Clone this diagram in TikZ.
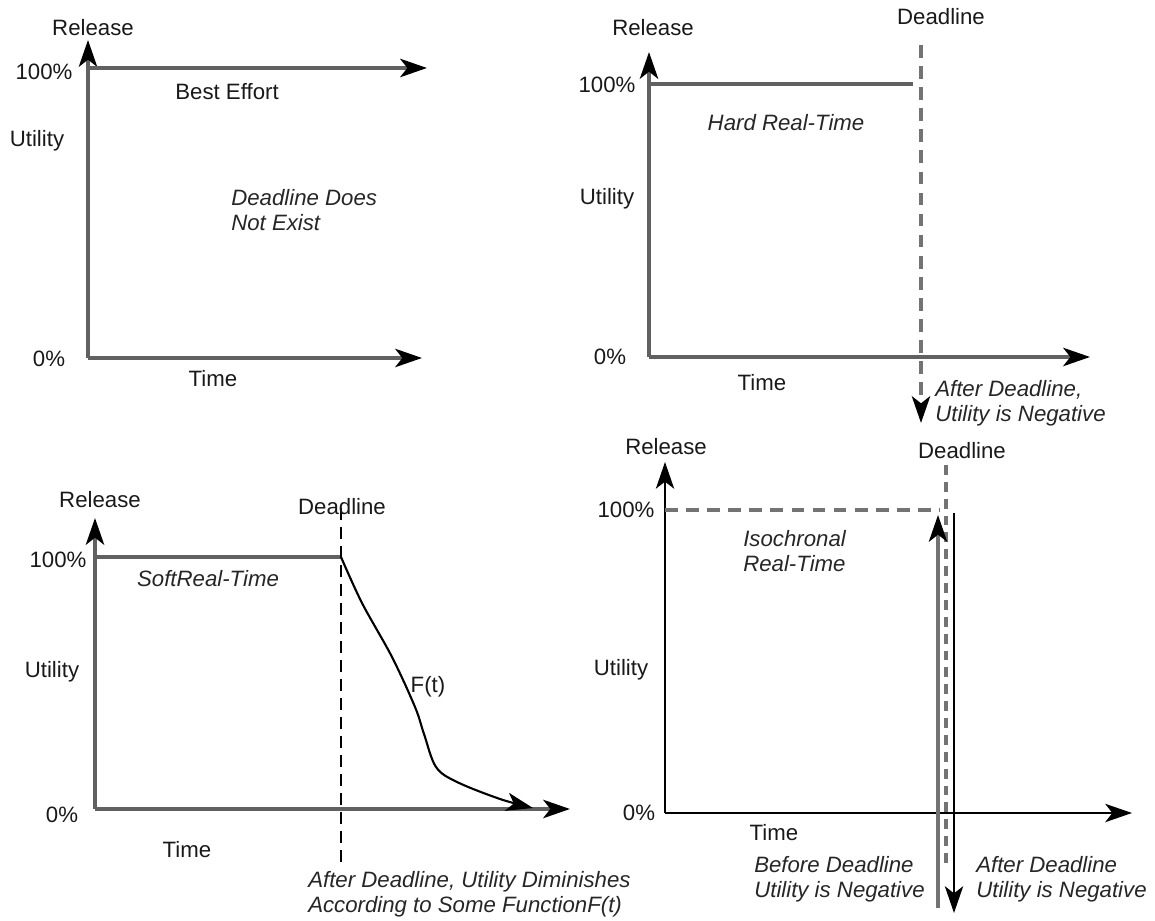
\documentclass[tikz,border=0pt]{standalone}
\usepackage{fontspec}
\setmainfont{Liberation Sans}
\usetikzlibrary{arrows.meta}
\begin{document}
\begin{tikzpicture}[x=0.025cm, y=0.025cm, line join=round,
			>={Stealth[length=19pt, width=13pt, inset=5pt, color=black]},
			font=\fontsize{15.8}{17.8}\selectfont,
			lbl/.style={text=black!90, inner sep=0pt},
			note/.style={text=black!85, font=\fontsize{15.8}{17.8}\selectfont\itshape,
				align=left, anchor=west, inner sep=0pt},
			axis/.style={draw=black!62, line width=2.6pt},
			thinaxis/.style={draw=black, line width=1.5pt},
			deadl/.style={draw=black!55, line width=2.6pt, dash pattern=on 9pt off 6pt},
			thindeadl/.style={draw=black, line width=1.1pt, dash pattern=on 8.5pt off 5pt}]
			\useasboundingbox (0,0) rectangle (1155,920);
			% best effort
			\begin{scope}[shift={(88,562)}]
				\coordinate (a0) at (0,0);
				\coordinate (atop) at (0,318);
				\coordinate (aend) at (334,0);
				\coordinate (afull) at (0,290);
				\coordinate (afullend) at (339,290);
				\draw[axis,->] (a0) -- (atop);
				\draw[axis,->] (a0) -- (aend);
				\draw[axis,->] (afull) -- (afullend);
				\node[lbl] (arel) at (5,330) {Release};
				\node[lbl] (afullpc) at (-44,286) {100\%};
				\node[lbl] (autil) at (-51,217) {Utility};
				\node[lbl] (abest) at (139,266) {Best Effort};
				\node[note] (anote) at (143,148) {Deadline Does\\Not Exist};
				\node[lbl] (azero) at (-39,-1) {0\%};
				\node[lbl] (atime) at (125,-21) {Time};
			\end{scope}
			% hard real-time
			\begin{scope}[shift={(649,563)}]
				\coordinate (b0) at (0,0);
				\coordinate (btop) at (0,305);
				\coordinate (bend) at (441,0);
				\coordinate (bfull) at (0,273);
				\coordinate (bfullend) at (264,273);
				\coordinate (bdtop) at (272,312);
				\coordinate (bdbot) at (272,-66);
				\draw[axis,->] (b0) -- (btop);
				\draw[axis,->] (b0) -- (bend);
				\draw[axis] (bfull) -- (bfullend);
				\draw[deadl,->] (bdtop) -- (bdbot);
				\node[lbl] (brel) at (4,329) {Release};
				\node[lbl] (bdead) at (292,340) {Deadline};
				\node[lbl] (bfullpc) at (-42,272) {100\%};
				\node[note, anchor=center] (bhard) at (137,234) {Hard Real-Time};
				\node[lbl] (butil) at (-42,158) {Utility};
				\node[lbl] (bzero) at (-39,0) {0\%};
				\node[lbl] (btime) at (113,-26) {Time};
				\node[note] (bafter) at (286,-46) {After Deadline,\\Utility is Negative};
			\end{scope}
			% soft real-time
			\begin{scope}[shift={(95,111)}]
				\coordinate (c0) at (0,0);
				\coordinate (ctop) at (0,291);
				\coordinate (cend) at (475,0);
				\coordinate (cfull) at (0,252);
				\coordinate (cfullend) at (246,252);
				\coordinate (cdtop) at (246,301);
				\coordinate (cdbot) at (246,-53);
				\draw[axis,->] (c0) -- (ctop);
				\draw[axis,->] (c0) -- (cend);
				\draw[axis] (cfull) -- (cfullend);
				\draw[thindeadl] (cdtop) -- (cdbot);
				\draw[black, line width=1.5pt, ->] plot[smooth, tension=0.55] coordinates
					{(246,252) (267,206) (297,152) (320,102) (329,75) (341,42) (362,27) (405,10) (438,1)};
				\node[lbl] (crel) at (5,309) {Release};
				\node[lbl] (cdead) at (247,302) {Deadline};
				\node[lbl] (cfullpc) at (-37,249) {100\%};
				\node[note, anchor=center] (csoft) at (113,230) {SoftReal-Time};
				\node[lbl] (cutil) at (-43,137) {Utility};
				\node[lbl] (cf) at (333,122) {F(t)};
				\node[lbl] (czero) at (-33,-6) {0\%};
				\node[lbl] (ctime) at (92,-41) {Time};
				\node[note] (cafter) at (213,-85) {After Deadline, Utility Diminishes\\According to Some FunctionF(t)};
			\end{scope}
			% isochronal real-time
			\begin{scope}[shift={(665,107)}]
				\coordinate (d0) at (0,0);
				\coordinate (dtop) at (0,351);
				\coordinate (dend) at (467,0);
				\coordinate (dfull) at (0,303);
				\coordinate (dfullend) at (275,303);
				\coordinate (ddtop) at (281,348);
				\coordinate (ddbot) at (281,-55);
				\coordinate (dupbot) at (273,-95);
				\coordinate (duptop) at (273,298);
				\coordinate (ddowntop) at (289,300);
				\coordinate (ddownbot) at (289,-100);
				\draw[thinaxis,->] (d0) -- (dtop);
				\draw[thinaxis,->] (d0) -- (dend);
				\draw[deadl] (dfull) -- (dfullend);
				\draw[deadl, line width=2.2pt, dash pattern=on 7pt off 5pt] (ddtop) -- (ddbot);
				\draw[draw=black!55, line width=2.2pt, ->] (dupbot) -- (duptop);
				\draw[thinaxis,->] (ddowntop) -- (ddownbot);
				\node[lbl] (drel) at (1,366) {Release};
				\node[lbl] (ddead) at (297,362) {Deadline};
				\node[lbl] (dfullpc) at (-39,303) {100\%};
				\node[note] (diso) at (78,262) {Isochronal\\Real-Time};
				\node[lbl] (dutil) at (-44,143) {Utility};
				\node[lbl] (dzero) at (-26,0) {0\%};
				\node[lbl] (dtime) at (109,-20) {Time};
				\node[note] (dbefore) at (89,-66) {Before Deadline\\Utility is Negative};
				\node[note] (dafter) at (311,-66) {After Deadline\\Utility is Negative};
			\end{scope}
		\end{tikzpicture}
\end{document}
